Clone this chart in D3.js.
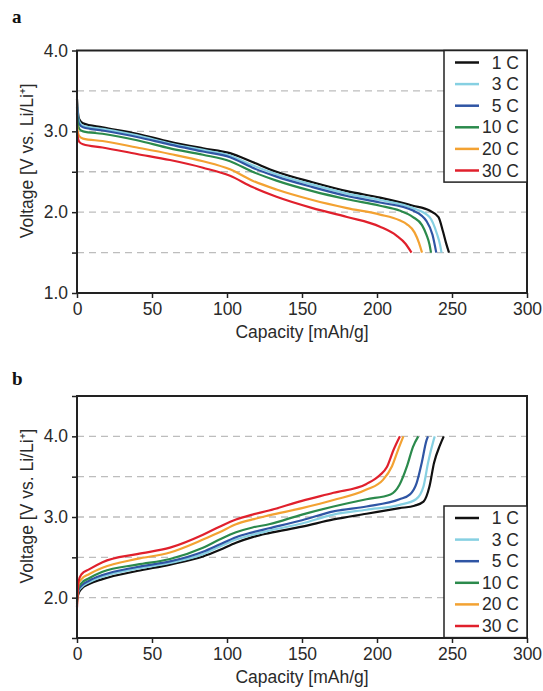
<!doctype html>
<html>
  <head>
    <meta charset="utf-8" />
    <title>Discharge / charge curves</title>
    <style>
      body { margin: 0; background: #fff; }
      svg { display: block; }
      text { font-family: "Liberation Sans", Arial, sans-serif; fill: #2a2a2a; }
      .panel-label { font-family: "Liberation Serif", "DejaVu Serif", serif; font-weight: bold; font-size: 19px; fill: #111; }
    </style>
  </head>
  <body>
    <svg id="chart" width="543" height="691"></svg>
    <script src="https://cdn.jsdelivr.net/npm/d3@7"></script>
    <script>
      // C-rates shown in both panels
      const rates = ["1 C", "3 C", "5 C", "10 C", "20 C", "30 C"];
      const rateColors = ["#111111", "#86d0e2", "#2f55a4", "#2b8a4c", "#f3a232", "#e0202c"];

      // panel a: discharge, [capacity mAh/g, voltage V]
      const discharge1C = [[0,3.40],[0.5,3.26],[1.5,3.15],[4,3.10],[17,3.05],[40,2.97],[62,2.87],[84,2.79],[102,2.73],[117,2.62],[133,2.50],[157,2.37],[180,2.26],[202,2.18],[224,2.08],[235,2.02],[241,1.94],[244,1.76],[246,1.62],[248,1.50]];
      const discharge3C = [[0,3.34],[0.5,3.22],[1.5,3.12],[4,3.07],[17,3.03],[40,2.95],[62,2.85],[84,2.77],[102,2.70],[117,2.58],[133,2.47],[157,2.34],[180,2.23],[202,2.15],[224,2.05],[235,1.94],[240,1.73],[242,1.60],[243,1.50]];
      const discharge5C = [[0,3.30],[0.5,3.18],[1.5,3.09],[4,3.05],[17,3.01],[40,2.93],[62,2.835],[84,2.75],[102,2.68],[117,2.55],[133,2.44],[157,2.31],[180,2.20],[202,2.12],[224,2.02],[233,1.89],[237,1.72],[239.5,1.50]];
      const discharge10C = [[0,3.22],[0.5,3.10],[1.5,3.03],[4,3.00],[17,2.97],[40,2.89],[62,2.79],[84,2.71],[102,2.63],[117,2.50],[133,2.39],[157,2.26],[180,2.16],[202,2.08],[215,2.02],[224,1.94],[230,1.84],[233,1.72],[235,1.60],[236,1.50]];
      const discharge20C = [[0,3.08],[0.5,3.00],[1.5,2.94],[4,2.91],[17,2.88],[40,2.80],[62,2.72],[84,2.63],[102,2.53],[117,2.39],[133,2.28],[157,2.15],[180,2.05],[202,1.97],[215,1.90],[220,1.85],[225,1.75],[228,1.62],[230,1.50]];
      const discharge30C = [[0,3.00],[0.5,2.93],[1.5,2.87],[4,2.84],[17,2.80],[40,2.72],[62,2.645],[84,2.55],[102,2.45],[117,2.31],[133,2.19],[157,2.05],[180,1.94],[202,1.82],[213,1.71],[219,1.61],[223,1.50]];

      // panel b: charge, [capacity mAh/g, voltage V]
      const charge1C = [[0,1.98],[1,2.05],[3,2.11],[8,2.17],[17,2.23],[40,2.33],[62,2.41],[84,2.51],[95,2.59],[106,2.68],[117,2.75],[128,2.80],[150,2.88],[171,2.97],[193,3.04],[215,3.11],[225,3.14],[231,3.19],[235,3.38],[238,3.67],[242,3.89],[244.5,4.0]];
      const charge3C = [[0,1.98],[1,2.08],[3,2.13],[8,2.19],[17,2.26],[40,2.36],[62,2.43],[84,2.54],[95,2.63],[106,2.72],[117,2.78],[128,2.83],[150,2.92],[171,3.03],[193,3.09],[215,3.15],[226,3.22],[231,3.38],[234,3.67],[237.7,3.95],[238.5,4.0]];
      const charge5C = [[0,1.97],[1,2.10],[3,2.15],[8,2.21],[17,2.28],[40,2.38],[62,2.45],[84,2.57],[95,2.66],[106,2.75],[117,2.81],[128,2.86],[150,2.96],[171,3.07],[193,3.13],[215,3.22],[222,3.28],[226.4,3.42],[229.8,3.67],[233,3.95],[234,4.0]];
      const charge10C = [[0,1.95],[1,2.12],[3,2.18],[8,2.24],[17,2.32],[40,2.41],[62,2.48],[84,2.62],[95,2.72],[106,2.81],[117,2.87],[128,2.91],[150,3.03],[171,3.13],[193,3.22],[209,3.28],[215,3.40],[220,3.63],[224,3.87],[227.5,4.0]];
      const charge20C = [[0,1.92],[1,2.17],[3,2.23],[8,2.29],[17,2.37],[40,2.48],[62,2.56],[84,2.72],[95,2.81],[106,2.91],[117,2.97],[128,3.02],[150,3.11],[171,3.21],[193,3.34],[204,3.46],[210,3.63],[214,3.83],[217.6,4.0]];
      const charge30C = [[0,1.88],[1,2.20],[3,2.29],[8,2.35],[17,2.44],[40,2.54],[62,2.62],[84,2.78],[95,2.88],[106,2.97],[117,3.03],[128,3.08],[150,3.20],[171,3.30],[193,3.41],[202,3.52],[206.6,3.62],[211,3.83],[215.3,4.0]];

      // axis ticks
      const capacityTicks = [0, 50, 100, 150, 200, 250, 300];
      const voltageTicksA = [1.0, 1.5, 2.0, 2.5, 3.0, 3.5, 4.0];
      const voltageTicksB = [1.5, 2.0, 2.5, 3.0, 3.5, 4.0, 4.5];
      const gridA = [1.5, 2.0, 2.5, 3.0, 3.5];
      const gridB = [2.0, 2.5, 3.0, 3.5, 4.0];

      const svg = d3.select("#chart");

      function drawPanel(opt) {
        const { top, bottom, yDomain, yTicks, grid, series, legendTop, letter, letterY } = opt;
        const left = 77, right = 527;

        const x = d3.scaleLinear().domain([0, 300]).range([left, right]);
        const y = d3.scaleLinear().domain(yDomain).range([bottom, top]);

        const g = svg.append("g");

        // dashed grid
        g.append("g")
          .selectAll("line")
          .data(grid)
          .join("line")
          .attr("x1", left)
          .attr("x2", right)
          .attr("y1", (d) => y(d))
          .attr("y2", (d) => y(d))
          .attr("stroke", "#bdbdbd")
          .attr("stroke-width", 1.3)
          .attr("stroke-dasharray", "7,5");

        // curves
        const line = d3
          .line()
          .x((d) => x(d[0]))
          .y((d) => y(d[1]))
          .curve(d3.curveMonotoneX);

        g.append("g")
          .selectAll("path")
          .data(series)
          .join("path")
          .attr("d", (d) => line(d))
          .attr("fill", "none")
          .attr("stroke", (d, i) => rateColors[i])
          .attr("stroke-width", 2.2);

        // axes
        const xAxis = g
          .append("g")
          .attr("transform", `translate(0,${bottom})`)
          .call(d3.axisBottom(x).tickValues(capacityTicks).tickSize(5).tickPadding(5));
        const yAxis = g
          .append("g")
          .attr("transform", `translate(${left},0)`)
          .call(
            d3
              .axisLeft(y)
              .tickValues(yTicks)
              .tickSize(5)
              .tickPadding(4)
              .tickFormat((d) => (Number.isInteger(d) ? d3.format(".1f")(d) : "")),
          );
        [xAxis, yAxis].forEach((a) => {
          a.select(".domain").remove();
          a.selectAll("line").attr("stroke", "#222").attr("stroke-width", 1.5);
          a.selectAll("text")
            .attr("fill", "#2a2a2a")
            .style("font-size", "17.5px")
            .style("font-family", '"Liberation Sans", Arial, sans-serif');
        });

        // frame
        g.append("rect")
          .attr("x", left)
          .attr("y", top)
          .attr("width", right - left)
          .attr("height", bottom - top)
          .attr("fill", "none")
          .attr("stroke", "#222")
          .attr("stroke-width", 2);

        // legend
        const legW = 83, rowH = 21.6;
        const leg = g.append("g").attr("transform", `translate(${right - legW},${legendTop})`);
        leg.append("rect")
          .attr("width", legW)
          .attr("height", rowH * rates.length + 2)
          .attr("fill", "#fff")
          .attr("stroke", "#222")
          .attr("stroke-width", 1.5);
        const rows = leg
          .selectAll("g.row")
          .data(rates)
          .join("g")
          .attr("class", "row")
          .attr("transform", (d, i) => `translate(0,${12 + i * rowH})`);
        rows.append("line")
          .attr("x1", 11)
          .attr("x2", 35)
          .attr("stroke", (d, i) => rateColors[i])
          .attr("stroke-width", 2.5);
        rows.append("text")
          .attr("x", 75)
          .attr("y", 6)
          .attr("text-anchor", "end")
          .style("font-size", "17.5px")
          .text((d) => d);

        // axis titles
        g.append("text")
          .attr("x", (left + right) / 2)
          .attr("y", bottom + 45)
          .attr("text-anchor", "middle")
          .style("font-size", "17.5px")
          .text("Capacity [mAh/g]");
        g.append("text")
          .attr("transform", `translate(33,${(top + bottom) / 2 - 11}) rotate(-90)`)
          .attr("text-anchor", "middle")
          .style("font-size", "17.5px")
          .text("Voltage [V vs. Li/Li⁺]");

        svg.append("text").attr("class", "panel-label").attr("x", 12).attr("y", letterY).text(letter);
      }

      drawPanel({
        top: 50.5,
        bottom: 293,
        yDomain: [1.0, 4.0],
        yTicks: voltageTicksA,
        grid: gridA,
        series: [discharge1C, discharge3C, discharge5C, discharge10C, discharge20C, discharge30C],
        legendTop: 50.5,
        letter: "a",
        letterY: 23,
      });

      drawPanel({
        top: 396,
        bottom: 638,
        yDomain: [1.5, 4.5],
        yTicks: voltageTicksB,
        grid: gridB,
        series: [charge1C, charge3C, charge5C, charge10C, charge20C, charge30C],
        legendTop: 506,
        letter: "b",
        letterY: 385,
      });
    </script>
  </body>
</html>
